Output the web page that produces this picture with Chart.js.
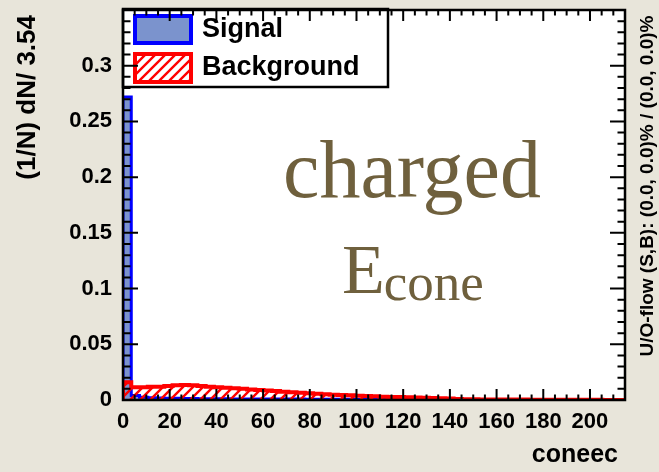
<!DOCTYPE html>
<html>
<head>
<meta charset="utf-8">
<script src="https://cdn.jsdelivr.net/npm/chart.js@4.4.0/dist/chart.umd.min.js"></script>
<style>
  html, body { margin: 0; padding: 0; background: #e8e5da; }
  #wrap { width: 659px; height: 472px; }
</style>
</head>
<body>
<div id="wrap"><canvas id="histo" width="659" height="472"></canvas></div>
<script>
"use strict";

// bin width of the histogram (coneec units)
const binWidth = 3.54;

const signalValues = [
  0.272, 0.004, 0.0025, 0.002, 0.0018, 0.0016, 0.0015, 0.0014, 0.0013, 0.0012,
  0.0012, 0.0011, 0.0011, 0.001, 0.001, 0.001, 0.0009, 0.0009, 0.0009, 0.0008,
  0.0008, 0.0008, 0.0007, 0.0007, 0.0007, 0.0006, 0.0006, 0.0006, 0.0005, 0.0005,
  0.0005, 0.0005, 0.0004, 0.0004, 0.0004, 0.0004, 0.0003, 0.0003, 0.0003, 0.0003,
  0, 0, 0, 0, 0, 0, 0, 0, 0, 0,
  0, 0, 0, 0, 0, 0, 0, 0, 0, 0, 0
];
const backgroundValues = [
  0.016, 0.0115, 0.0115, 0.0118, 0.012, 0.0125, 0.0133, 0.0135, 0.0132, 0.0125,
  0.012, 0.0115, 0.011, 0.0105, 0.01, 0.0095, 0.009, 0.0085, 0.008, 0.0075,
  0.007, 0.0065, 0.006, 0.0056, 0.0052, 0.0048, 0.0045, 0.0042, 0.0039, 0.0036,
  0.0033, 0.003, 0.0028, 0.0026, 0.0024, 0.0022, 0.002, 0.0017, 0.0015, 0.0013,
  0.0008, 0.0006, 0.0006, 0.0005, 0.0005, 0.0005, 0.0004, 0.0004, 0.0004, 0.0003,
  0.0003, 0.0003, 0.0003, 0.0002, 0.0002, 0.0002, 0.0002, 0.0002, 0.0001, 0.0001, 0.0001
];

const xTicks = [0, 20, 40, 60, 80, 100, 120, 140, 160, 180, 200];
const yTicks = [0, 0.05, 0.1, 0.15, 0.2, 0.25, 0.3];
const xTitle = "coneec";
const yTitle = "(1/N) dN/ 3.54";
const flowText = "U/O-flow (S,B): (0.0, 0.0)% / (0.0, 0.0)%";
const bigLabel = "charged";
const bigE = "E";
const bigSub = "cone";
const seriesNames = ["Signal", "Background"];

const ctx = document.getElementById("histo").getContext("2d");

// histogram outline as step points (edge, value)
const toSteps = values => {
  let pts = [{ x: 0, y: 0 }];
  values.forEach((v, i) => pts.push({ x: i * binWidth, y: v }));
  pts.push({ x: values.length * binWidth, y: 0 });
  return pts;
};

const makeHatch = color => {
  const c = document.createElement("canvas");
  c.width = 10;
  c.height = 10;
  const g = c.getContext("2d");
  g.strokeStyle = color;
  g.lineWidth = 2.4;
  g.beginPath();
  g.moveTo(-2, 12); g.lineTo(12, -2);
  g.moveTo(-2, 2); g.lineTo(2, -2);
  g.moveTo(8, 12); g.lineTo(12, 8);
  g.stroke();
  return ctx.createPattern(c, "repeat");
};

const hatch = makeHatch("#ff0000");
const boldFont = size => "bold " + size + "px 'Liberation Sans', Arial, sans-serif";

const rootStyle = {
  id: "rootStyle",
  beforeDatasetsDraw(chart) {
    const a = chart.chartArea;
    chart.ctx.save();
    chart.ctx.fillStyle = "#ffffff";
    chart.ctx.fillRect(a.left, a.top, a.right - a.left, a.bottom - a.top);
    chart.ctx.restore();
  },
  afterDraw(chart) {
    const c = chart.ctx;
    const area = chart.chartArea;
    const xs = chart.scales.x;
    const ys = chart.scales.y;
    const sets = chart.data.datasets;

    // legend
    c.save();
    c.fillStyle = "#ffffff";
    c.fillRect(123, 9, 265, 78);
    c.lineWidth = 2.5;
    c.strokeStyle = "#000";
    c.strokeRect(123, 9, 265, 78);
    c.lineWidth = 4;
    c.fillStyle = sets[1].backgroundColor;
    c.fillRect(135, 16, 56, 27);
    c.strokeStyle = sets[1].borderColor;
    c.strokeRect(135, 16, 56, 27);
    c.fillStyle = "#fff";
    c.fillRect(135, 54, 56, 28);
    c.fillStyle = sets[0].backgroundColor;
    c.fillRect(135, 54, 56, 28);
    c.strokeStyle = sets[0].borderColor;
    c.strokeRect(135, 54, 56, 28);
    c.fillStyle = "#000";
    c.font = boldFont(27);
    c.textBaseline = "middle";
    c.textAlign = "left";
    c.fillText(sets[1].label, 202, 30);
    c.fillText(sets[0].label, 202, 68);
    c.restore();

    // inward ticks on all four sides
    c.save();
    c.strokeStyle = "#000";
    c.lineWidth = 2;
    c.beginPath();
    for (let v = xs.min; v <= xs.max + 1e-9; v += 5) {
      const px = xs.getPixelForValue(v);
      const len = Math.abs(v % 20) < 1e-6 ? 11 : 5.5;
      c.moveTo(px, area.bottom); c.lineTo(px, area.bottom - len);
      c.moveTo(px, area.top); c.lineTo(px, area.top + len);
    }
    for (let k = 0; k <= 35; k++) {
      const py = ys.getPixelForValue(k * 0.01);
      const len = k % 5 === 0 ? 15 : 7.5;
      c.moveTo(area.left, py); c.lineTo(area.left + len, py);
      c.moveTo(area.right, py); c.lineTo(area.right - len, py);
    }
    c.stroke();
    c.lineWidth = 2.5;
    c.strokeRect(area.left, area.top, area.right - area.left, area.bottom - area.top);
    c.restore();

    // axis titles and side note
    c.save();
    c.fillStyle = "#000";
    c.font = boldFont(25);
    c.textAlign = "right";
    c.textBaseline = "middle";
    c.fillText(xTitle, 618, 455);
    c.font = boldFont(26);
    c.translate(28, 15);
    c.rotate(-Math.PI / 2);
    c.fillText(yTitle, 0, 0);
    c.restore();

    c.save();
    c.fillStyle = "#000";
    c.font = boldFont(19);
    c.textAlign = "center";
    c.textBaseline = "middle";
    c.translate(648, 186);
    c.rotate(-Math.PI / 2);
    c.fillText(flowText, 0, 0);
    c.restore();

    // big label
    c.save();
    c.fillStyle = "#6f603d";
    c.textBaseline = "alphabetic";
    c.textAlign = "center";
    c.font = "82px 'Liberation Serif', serif";
    c.fillText(bigLabel, 412, 197);
    c.textAlign = "left";
    c.font = "70px 'Liberation Serif', serif";
    c.fillText(bigE, 342, 293);
    const ew = c.measureText(bigE).width;
    c.font = "53px 'Liberation Serif', serif";
    c.fillText(bigSub, 341 + ew, 300);
    c.restore();
  }
};

const histo = new Chart(ctx, {
  type: "line",
  data: {
    datasets: [
      {
        label: seriesNames[1],
        data: toSteps(backgroundValues),
        borderColor: "#ff0000",
        backgroundColor: hatch,
        borderWidth: 4,
        fill: "origin",
        stepped: true,
        pointRadius: 0,
        order: 0
      },
      {
        label: seriesNames[0],
        data: toSteps(signalValues),
        borderColor: "#0000ff",
        backgroundColor: "#7b93cd",
        borderWidth: 3,
        fill: "origin",
        stepped: true,
        pointRadius: 0,
        order: 1
      }
    ]
  },
  options: {
    responsive: false,
    animation: false,
    events: [],
    layout: { padding: { top: 10, right: 34, left: 0, bottom: 0 } },
    plugins: { legend: { display: false }, tooltip: { enabled: false } },
    scales: {
      x: {
        type: "linear",
        min: 0,
        max: 215,
        grid: { display: false, drawTicks: false },
        border: { display: false },
        afterBuildTicks: s => { s.ticks = xTicks.map(v => ({ value: v })); },
        afterFit: s => { s.height = 72; s.paddingLeft = 0; s.paddingRight = 0; },
        ticks: {
          color: "#000",
          padding: 9,
          maxRotation: 0,
          autoSkip: false,
          font: { family: "'Liberation Sans', Arial, sans-serif", weight: "bold", size: 22 },
          callback: v => String(v)
        }
      },
      y: {
        type: "linear",
        min: 0,
        max: 0.35,
        grid: { display: false, drawTicks: false },
        border: { display: false },
        afterBuildTicks: s => { s.ticks = yTicks.map(v => ({ value: v })); },
        afterFit: s => { s.width = 123; s.paddingTop = 0; s.paddingBottom = 0; },
        ticks: {
          color: "#000",
          padding: 11,
          autoSkip: false,
          font: { family: "'Liberation Sans', Arial, sans-serif", weight: "bold", size: 22 },
          callback: v => String(+v.toFixed(2))
        }
      }
    }
  },
  plugins: [rootStyle]
});
</script>
</body>
</html>
